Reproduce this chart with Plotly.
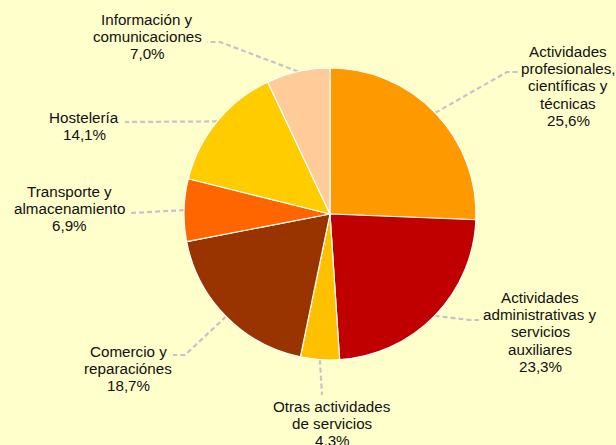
import math
import plotly.graph_objects as go

# ---- data ----
sectors = [
    "Actividades profesionales, científicas y técnicas",
    "Actividades administrativas y servicios auxiliares",
    "Otras actividades de servicios",
    "Comercio y reparaciónes",
    "Transporte y almacenamiento",
    "Hostelería",
    "Información y comunicaciones",
]
shares = [25.6, 23.3, 4.3, 18.7, 6.9, 14.1, 7.0]
label_lines = [
    ["Actividades", "profesionales,", "científicas y", "técnicas"],
    ["Actividades", "administrativas y", "servicios", "auxiliares"],
    ["Otras actividades", "de servicios"],
    ["Comercio y", "reparaciónes"],
    ["Transporte y", "almacenamiento"],
    ["Hostelería"],
    ["Información y", "comunicaciones"],
]
colors = ["#FF9900", "#C00000", "#FFC000", "#993300", "#FF6600", "#FFCC00", "#FFCC99"]

# ---- layout (pixels) ----
W, H = 616, 445
CX, CY, R = 330, 214, 146
BG = "#FFFFCC"
LINE_COLOR = "#C4C4CE"
FONT = "Liberation Sans, Arial, sans-serif"
FS = 15.2
LSP = 17.4
# per slice: elbow point, end point of leader line, label centre x, first-line centre y
leader = [
    dict(elbow=(507, 72), end=(518, 72), lx=568, ly=51),
    dict(elbow=(470, 320), end=(479, 320), lx=540, ly=297),
    dict(elbow=(322, 395), end=(322, 395), lx=332, ly=406),
    dict(elbow=(185, 355), end=(173, 355), lx=128, ly=351),
    dict(elbow=(134, 213), end=(131, 213), lx=69, ly=191),
    dict(elbow=(130, 122), end=(125, 122), lx=84, ly=117),
    dict(elbow=(220, 42), end=(207, 42), lx=147, ly=19),
]

fig = go.Figure()

fig.add_trace(go.Pie(
    labels=sectors, values=shares, sort=False, direction="clockwise", rotation=0,
    marker=dict(colors=colors, line=dict(color="white", width=1.2)),
    textinfo="none", hoverinfo="label+percent", showlegend=False,
    domain=dict(x=[(CX - R) / W, (CX + R) / W], y=[1 - (CY + R) / H, 1 - (CY - R) / H]),
))

total = sum(shares)
cum = 0.0
annotations = []
for i, v in enumerate(shares):
    mid = (cum + v / 2) / total * 2 * math.pi
    cum += v
    sx = CX + R * math.sin(mid)
    sy = CY - R * math.cos(mid)
    L = leader[i]
    fig.add_trace(go.Scatter(
        x=[sx, L["elbow"][0], L["end"][0]], y=[sy, L["elbow"][1], L["end"][1]],
        mode="lines", line=dict(color=LINE_COLOR, width=2.2, dash="5px,3px"),
        hoverinfo="skip", showlegend=False, xaxis="x", yaxis="y",
    ))
    lines = label_lines[i] + [f"{v:.1f}%".replace(".", ",")]
    for j, t in enumerate(lines):
        annotations.append(dict(
            x=L["lx"], y=L["ly"] + j * LSP, xref="x", yref="y", text=t,
            showarrow=False, xanchor="center", yanchor="middle",
            font=dict(family=FONT, size=FS, color="#111111"),
        ))

fig.update_layout(
    width=W, height=H, margin=dict(l=0, r=0, t=0, b=0),
    paper_bgcolor=BG, plot_bgcolor="rgba(0,0,0,0)",
    xaxis=dict(range=[0, W], visible=False, fixedrange=True, domain=[0, 1]),
    yaxis=dict(range=[H, 0], visible=False, fixedrange=True, domain=[0, 1]),
    annotations=annotations,
)

fig.write_html(
    "out.html",
    config={"displayModeBar": False},
    post_script="document.body.style.margin='0';document.body.style.overflow='hidden';document.body.style.background='#FFFFCC';",
)
